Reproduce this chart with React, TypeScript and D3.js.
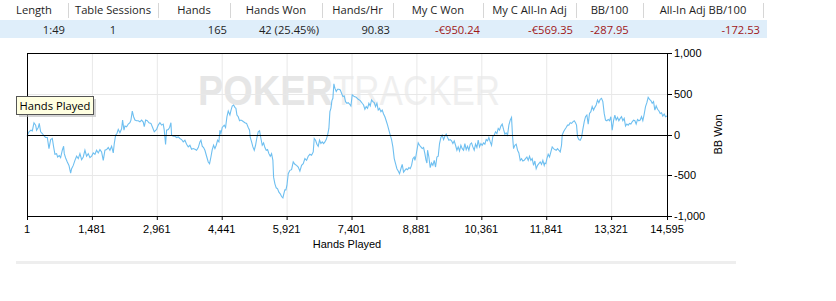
import React from "react";
import * as d3 from "d3";

const headers = ["Length", "Table Sessions", "Hands", "Hands Won", "Hands/Hr", "My C Won", "My C All-In Adj", "BB/100", "All-In Adj BB/100"];
const rowValues = ["1:49", "1", "165", "42 (25.45%)", "90.83", "-€950.24", "-€569.35", "-287.95", "-172.53"];
const colEdges = [0, 68, 158, 230, 322, 393, 483, 576, 643, 763];
const valueAlign = ["end", "middle", "end", "end", "end", "end", "end", "middle", "end"];
const redCols = [5, 6, 7, 8];

const xTicks = [1, 1481, 2961, 4441, 5921, 7401, 8881, 10361, 11841, 13321, 14595];
const yTicks = [1000, 500, 0, -500, -1000];

const hands = [
  1, 46, 91, 122, 160, 198, 220, 258, 281, 312, 350, 395, 426, 464, 502, 540, 578, 608, 638, 676, 699, 737, 768, 806, 836, 851, 882, 920, 958, 996,
  1018, 1056, 1094, 1132, 1170, 1208, 1246, 1284, 1322, 1360, 1398, 1436, 1474, 1512, 1550, 1588, 1626, 1664, 1702, 1740, 1778, 1816, 1854, 1892, 1930, 1968, 1991,
  2022, 2052, 2082, 2120, 2158, 2181, 2212, 2234, 2272, 2310, 2348, 2371, 2402, 2432, 2462, 2500, 2538, 2576, 2614, 2652, 2675, 2706, 2744, 2782, 2827, 2865, 2903,
  2956, 2994, 3032, 3070, 3108, 3131, 3161, 3184, 3222, 3252, 3283, 3298, 3336, 3374, 3412, 3450, 3488, 3526, 3564, 3602, 3640, 3678, 3716, 3754, 3792, 3830, 3868,
  3906, 3944, 3967, 3997, 4028, 4058, 4096, 4134, 4164, 4195, 4225, 4256, 4286, 4316, 4347, 4377, 4400, 4423, 4453, 4499, 4529, 4560, 4590, 4628, 4651, 4681, 4712,
  4742, 4765, 4788, 4818, 4848, 4879, 4909, 4940, 4970, 5008, 5046, 5076, 5092, 5122, 5152, 5183, 5213, 5244, 5274, 5304, 5335, 5365, 5396, 5426, 5456, 5487, 5517,
  5548, 5578, 5608, 5624, 5654, 5684, 5715, 5745, 5776, 5806, 5836, 5867, 5882,
  5905, 5928, 5958, 5996, 6034, 6072, 6110, 6148, 6186, 6224, 6262, 6300, 6338, 6376, 6414, 6452, 6490, 6528, 6551, 6581, 6612, 6642, 6672, 6703, 6733, 6764, 6794,
  6824, 6855, 6885, 6908, 6931, 6954, 6976, 6999, 7022, 7052, 7083, 7113, 7144, 7174, 7204, 7235, 7265, 7296, 7326, 7356, 7387, 7417, 7463, 7508, 7554, 7600, 7645,
  7676, 7706, 7736, 7767, 7797, 7828, 7858, 7888, 7919, 7949, 7980, 8010, 8040, 8071, 8101, 8132, 8162, 8192, 8223, 8253, 8284, 8314, 8344, 8375, 8405, 8436, 8466,
  8496, 8527, 8557, 8588, 8618, 8648, 8679, 8709, 8740, 8770, 8800, 8831,
  8846, 8869, 8892, 8922, 8952, 8983, 9013, 9044, 9074, 9097, 9120, 9135, 9165, 9196, 9226, 9256, 9287, 9317, 9348, 9378, 9408, 9439, 9469, 9500, 9530, 9560, 9591,
  9621, 9652, 9682, 9712, 9743, 9773, 9804, 9834, 9864, 9895, 9925, 9956, 9986, 10016, 10047, 10077, 10108, 10138, 10168, 10199, 10229, 10260, 10290, 10320, 10351,
  10381, 10412, 10442, 10472, 10503, 10533, 10564, 10594, 10624, 10655, 10685, 10716, 10746, 10776, 10807, 10837, 10868, 10898, 10928, 10959, 10989, 11020, 11050,
  11073, 11096, 11126, 11156, 11187, 11217, 11248, 11278, 11308, 11339, 11369, 11400, 11430, 11460, 11491, 11521, 11552, 11582, 11612, 11643, 11673, 11704, 11734,
  11764, 11795,
  11810, 11833, 11856, 11886, 11916, 11947, 11977, 12008, 12038, 12068, 12099, 12129, 12160, 12190, 12205, 12236, 12266, 12296, 12327, 12357, 12388, 12418, 12448,
  12479, 12509, 12532, 12555, 12585, 12616, 12646, 12676, 12707, 12737, 12768, 12798, 12828, 12859, 12889, 12920, 12950, 12980, 13011, 13041, 13072, 13102, 13132,
  13163, 13193, 13224, 13254, 13284, 13315, 13345, 13376, 13406, 13436, 13467, 13497, 13528, 13558, 13588, 13619, 13649, 13680, 13710, 13740, 13771, 13801, 13832,
  13862, 13892, 13923, 13953, 13984, 14014, 14044, 14075, 14105, 14136, 14166, 14196, 14227, 14257, 14288, 14318, 14348, 14379, 14409, 14440, 14470, 14500, 14531,
  14561, 14595,
];

const bbWon = [
  -20, 33, 53, 45, 144, 115, 53, 86, 136, 33, 12, -21, -37, -37, -173, -62, -49, -152, -243, -235, -276, -259, -284, -193, -144, -235, -288, -337, -379, -473,
  -420, -379, -317, -267, -296, -235, -309, -276, -193, -267, -235, -284, -267, -226, -243, -193, -226, -185, -214, -317, -193, -185, -160, -193, -144, -226, -111,
  -8, 12, 62, 21, 70, 177, 53, 103, 95, 128, 144, 177, 288, 218, 177, 169, 169, 156, 177, 152, 95, 177, 169, 144, 136, 86, 33,
  62, 115, 144, 115, 128, 53, -123, 53, 62, 86, 144, -8, -21, -21, -37, -29, -49, -62, -91, -70, -119, -152, -132, -181, -173, -181, -193,
  -160, -91, -70, -144, -160, -193, -267, -337, -358, -276, -185, -132, -173, -132, -70, -91, 53, 12, 86, 115, 86, 218, 288, 239, 292, 350, 362,
  333, 321, 239, 218, 169, 177, 169, 156, 144, 136, 86, 53, -37, -91, -152, -193, -132, -37, 33, 45, -49, -132, -103, -160, -193, -185, -235,
  -267, -235, -317, -523, -605, -654, -667, -708, -728, -761, -778, -708, -679,
  -679, -625, -481, -440, -432, -337, -366, -379, -399, -449, -379, -358, -296, -317, -267, -243, -255, -214, -49, -70, -119, -144, -70, -111, -91, -111, -91,
  -62, -8, 74, 280, 321, 416, 444, 621, 568, 527, 556, 556, 547, 506, 465, 473, 403, 383, 391, 374, 350, 486, 465, 457, 432, 416, 383,
  362, 309, 342, 321, 383, 350, 424, 403, 391, 342, 383, 300, 321, 280, 300, 251, 218, 169, 115, 53, -8, -62, -152, -296, -358, -420, -449,
  -481, -420, -366, -461, -440, -420, -432, -407, -420, -379, -296, -276,
  -317, -267, -193, -103, -132, -152, -173, -160, -235, -309, -350, -193, -276, -407, -350, -379, -317, -399, -276, -267, -111, -37, -8, -62, -21, 4, -37,
  -70, -62, -78, -111, -78, -132, -193, -152, -202, -132, -173, -193, -111, -185, -144, -193, -119, -103, -152, -193, -119, -160, -70, -152, -111,
  -132, -103, -119, -62, -78, -37, -91, -132, -21, -8, 33, 12, 74, 53, 103, 128, 62, 4, 21, -8, 115, 177, 210,
  -21, -173, -132, -119, -193, -226, -317, -296, -325, -317, -296, -276, -317, -267, -317, -296, -379, -325, -420, -379, -358, -337, -366,
  -317, -379,
  -350, -358, -296, -243, -276, -214, -152, -173, -185, -193, -173, -193, -214, -132, -8, 33, 62, 86, 115, 115, 144, 136, 156,
  169, 144, 115, -29, -62, -70, -37, 62, 156, 218, 239, 128, 259, 280, 342, 300, 333, 362, 424, 391, 432, 444, 403,
  259, 177, 169, 185, 169, 218, 53, 169, 239, 177, 210, 169, 198, 218, 169, 198, 103, 128, 115, 136, 128, 156, 177,
  169, 128, 185, 169, 177, 218, 169, 251, 342, 391, 457, 432, 416, 383, 403, 300, 350, 309, 292, 259, 267, 226, 251,
  218, 226,
];

const W = 836;
const H = 301;
const plot = { left: 27, right: 667, top: 53, bottom: 216 };

const fmt = (v: number) => d3.format(",")(v).replace("\u2212", "-");

export default function App() {
  const x = d3.scaleLinear().domain([1, 14595]).range([plot.left, plot.right]);
  const y = d3.scaleLinear().domain([-1000, 1000]).range([plot.bottom, plot.top]);
  const data = hands.map((h, i) => [h, bbWon[i]] as [number, number]);
  const line = d3
    .line<[number, number]>()
    .x((d) => x(d[0]))
    .y((d) => y(d[1]));

  const tableFont = "'Open Sans', 'Noto Sans', sans-serif";
  const axisFont = "'Liberation Sans', Arial, sans-serif";

  return (
    <svg
      width={W}
      height={H}
      style={{ position: "absolute", left: 0, top: 0, background: "#fff" }}
    >
      {/* table */}
      <rect x={0} y={0} width={W} height={20} fill="#ffffff" />
      <rect x={0} y={20} width={767} height={18} fill="#dfeefa" />
      {colEdges.slice(1).map((e, i) => (
        <line key={"sep" + i} x1={e + 0.5} x2={e + 0.5} y1={3} y2={18} stroke="#d6d6d6" />
      ))}
      {headers.map((h, i) => (
        <text
          key={"h" + i}
          x={(colEdges[i] + colEdges[i + 1]) / 2}
          y={14}
          textAnchor="middle"
          fontFamily={tableFont}
          fontSize={11.2}
          fill="#1e1e1e"
        >
          {h}
        </text>
      ))}
      {rowValues.map((v, i) => {
        const a = valueAlign[i];
        const xx = a === "end" ? colEdges[i + 1] - 3 : (colEdges[i] + colEdges[i + 1]) / 2;
        return (
          <text
            key={"v" + i}
            x={xx}
            y={33.5}
            textAnchor={a}
            fontFamily={tableFont}
            fontSize={11.2}
            fill={redCols.includes(i) ? "#a01818" : "#1e1e1e"}
          >
            {v}
          </text>
        );
      })}

      {/* watermark */}
      <text x={198} y={105} fontFamily={axisFont} fontSize={42} fill="#e6e6e6">
        <tspan fontWeight="bold" textLength={135} lengthAdjust="spacingAndGlyphs">POKER</tspan>
        <tspan fill="#efefef" textLength={167} lengthAdjust="spacingAndGlyphs">TRACKER</tspan>
      </text>

      {/* gridlines */}
      {xTicks.slice(1, -1).map((t) => (
        <line key={"gx" + t} x1={x(t) + 0.5} x2={x(t) + 0.5} y1={plot.top} y2={plot.bottom} stroke="#e8e8e8" />
      ))}
      {[500, -500].map((t) => (
        <line key={"gy" + t} x1={plot.left} x2={plot.right} y1={Math.round(y(t)) + 0.5} y2={Math.round(y(t)) + 0.5} stroke="#e8e8e8" />
      ))}

      {/* series */}
      <path d={line(data) || ""} fill="none" stroke="#6ebff0" strokeWidth={1.1} />

      {/* zero line */}
      <line x1={plot.left} x2={plot.right} y1={Math.round(y(0)) + 0.5} y2={Math.round(y(0)) + 0.5} stroke="#000" />

      {/* frame */}
      <rect
        x={plot.left + 0.5}
        y={plot.top + 0.5}
        width={plot.right - plot.left}
        height={plot.bottom - plot.top}
        fill="none"
        stroke="#000"
      />

      {/* x axis ticks */}
      {xTicks.map((t) => (
        <g key={"xt" + t}>
          <line x1={x(t) + 0.5} x2={x(t) + 0.5} y1={plot.bottom} y2={plot.bottom + 4} stroke="#000" />
          <text x={x(t)} y={233} textAnchor="middle" fontFamily={axisFont} fontSize={11} fill="#000">
            {fmt(t)}
          </text>
        </g>
      ))}
      <text x={(plot.left + plot.right) / 2} y={248} textAnchor="middle" fontFamily={axisFont} fontSize={11} fill="#000">
        Hands Played
      </text>

      {/* y axis ticks on right */}
      {yTicks.map((t) => (
        <g key={"yt" + t}>
          <line x1={plot.right} x2={plot.right + 5} y1={Math.round(y(t)) + 0.5} y2={Math.round(y(t)) + 0.5} stroke="#000" />
          <text x={plot.right + 7} y={y(t) + 4} fontFamily={axisFont} fontSize={11} fill="#000">
            {fmt(t)}
          </text>
        </g>
      ))}
      <text
        transform={`translate(722, ${(plot.top + plot.bottom) / 2}) rotate(-90)`}
        textAnchor="middle"
        fontFamily={axisFont}
        fontSize={11}
        fill="#000"
      >
        BB Won
      </text>

      {/* bottom separator bar */}
      <rect x={16} y={261} width={720} height={3} fill="#eeeeee" />

      {/* tooltip */}
      <rect x={19} y={99} width={77} height={18} fill="#b8b8b8" opacity={0.6} />
      <rect x={16.5} y={96.5} width={77} height={18} fill="#ffffe1" stroke="#555" />
      <text x={19.5} y={110} fontFamily={tableFont} fontSize={11.2} fill="#000">
        Hands Played
      </text>
    </svg>
  );
}
